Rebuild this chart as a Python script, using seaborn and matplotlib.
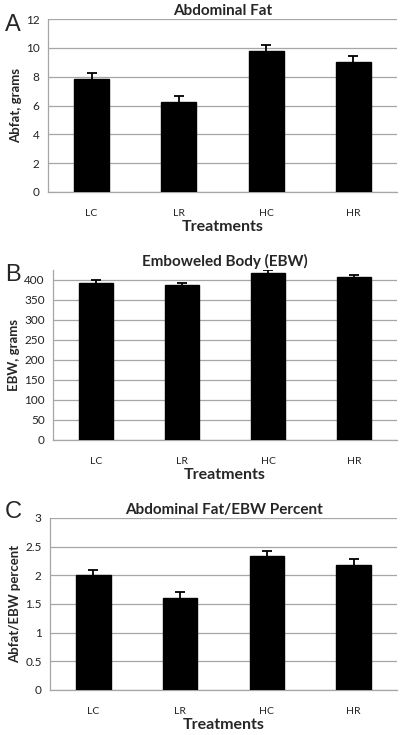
""" Abdominal fat, EBW and fat percent by treatment """

import matplotlib.pyplot as plt
import numpy as np
import seaborn as sns

treatments = ['LC', 'LR', 'HC', 'HR']

abfat = [7.85, 6.25, 9.8, 9.0]
abfat_err = [0.42, 0.42, 0.42, 0.40]

ebw = [393, 387, 418, 407]
ebw_err = [6, 5, 6, 5]

pct = [2.0, 1.61, 2.34, 2.18]
pct_err = [0.1, 0.1, 0.09, 0.1]

sns.set_style('white')
plt.rcParams['font.family'] = ['Lato', 'DejaVu Sans']

fig = plt.figure(figsize=(4, 7.35), dpi=100)

# panel boxes in pixels: left, top, right, bottom
boxes = [(48, 19, 397, 192), (53, 270, 397, 440), (50, 518, 397, 690)]
letter_y = [25, 275, 512]
panels = [
    ('A', 'Abdominal Fat', 'Abfat, grams', abfat, abfat_err, (0, 12), np.arange(0, 13, 2), '{:.0f}'),
    ('B', 'Emboweled Body (EBW)', 'EBW, grams', ebw, ebw_err, (0, 425), np.arange(0, 401, 50), '{:.0f}'),
    ('C', 'Abdominal Fat/EBW Percent', 'Abfat/EBW percent', pct, pct_err, (0, 3), np.arange(0, 3.01, 0.5), '{:g}'),
]

W, H = 400, 735
grid_col = '#a6a6a6'

for (l, t, r, b), ly, (letter, title, ylab, vals, errs, ylim, yt, fmt) in zip(boxes, letter_y, panels):
    ax = fig.add_axes([l / W, 1 - b / H, (r - l) / W, (b - t) / H])
    sns.barplot(x=treatments, y=vals, color='black', width=0.4, saturation=1,
                edgecolor='black', ax=ax, zorder=3)
    ax.errorbar(x=np.arange(len(treatments)), y=vals, yerr=errs, fmt='none',
                ecolor='black', elinewidth=1.3, capsize=3.5, capthick=1.3, zorder=4)

    ax.set_xlim(-0.5, 3.5)
    ax.set_ylim(*ylim)
    ax.set_yticks(yt)
    ax.set_yticklabels([fmt.format(v) for v in yt])
    ax.yaxis.grid(True, color=grid_col, linewidth=0.9, zorder=0)
    ax.set_axisbelow(True)

    for s in ['top', 'right']:
        ax.spines[s].set_visible(False)
    for s in ['left', 'bottom']:
        ax.spines[s].set_color(grid_col)
        ax.spines[s].set_linewidth(0.9)

    ax.set_xticks(np.arange(-0.5, 3.6, 1), minor=True)
    ax.tick_params(axis='x', which='major', length=0, labelsize=7.5, pad=12, colors='#222222')
    ax.tick_params(axis='x', which='minor', length=3, color=grid_col, direction='out')
    ax.tick_params(axis='y', length=3, color=grid_col, direction='out', labelsize=8.5, pad=3,
                   labelcolor='#222222')

    ax.set_title(title, fontsize=11, fontweight='bold', pad=3)
    ax.set_ylabel(ylab, fontsize=9.5, fontweight='bold', labelpad=3)
    ax.set_xlabel('Treatments', fontsize=11.5, fontweight='bold', labelpad=2)

    fig.text(5 / W, 1 - ly / H, letter, fontsize=17, family='Liberation Sans',
             va='center', ha='left')

plt.savefig('out.png', dpi=100)
